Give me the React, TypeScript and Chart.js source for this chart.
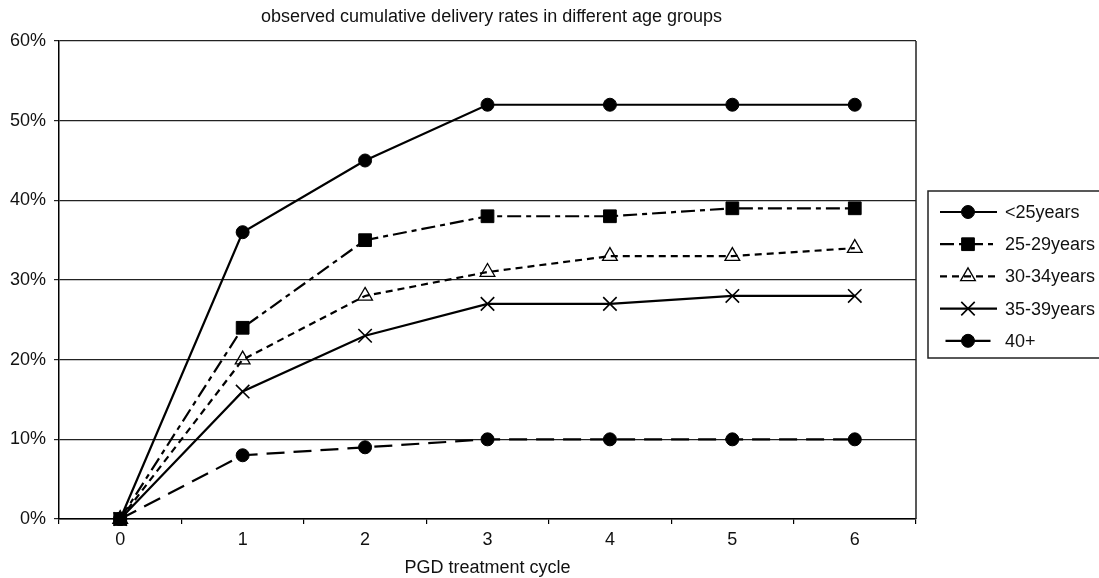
import React, { useEffect, useRef } from 'react';
import { Chart, registerables } from 'chart.js';
import { drawPoint } from 'chart.js/helpers';

Chart.register(...registerables);

const cycles = ['0', '1', '2', '3', '4', '5', '6'];
const under25 = [0, 36, 45, 52, 52, 52, 52];
const age25to29 = [0, 24, 35, 38, 38, 39, 39];
const age30to34 = [0, 20, 28, 31, 33, 33, 34];
const age35to39 = [0, 16, 23, 27, 27, 28, 28];
const age40plus = [0, 8, 9, 10, 10, 10, 10];
const seriesLabels = ['<25years', '25-29years', '30-34years', '35-39years', '40+'];
const yMin = 0;
const yMax = 60;
const yStep = 10;
const chartTitle = 'observed cumulative delivery rates in different age groups';
const xAxisTitle = 'PGD treatment cycle';

const FONT = "'Liberation Sans', Arial, Helvetica, sans-serif";
const TEXT = '#111';

const framePlugin = {
  id: 'frame',
  beforeDatasetsDraw(chart: any) {
    const { ctx, chartArea } = chart;
    ctx.save();
    ctx.strokeStyle = '#222';
    ctx.lineWidth = 1.5;
    ctx.beginPath();
    ctx.moveTo(chartArea.right, chartArea.top);
    ctx.lineTo(chartArea.right, chartArea.bottom);
    ctx.stroke();
    ctx.restore();
  },
};

const titlePlugin = {
  id: 'topTitle',
  afterDraw(chart: any) {
    const { ctx, chartArea } = chart;
    ctx.save();
    ctx.font = `18px ${FONT}`;
    ctx.fillStyle = TEXT;
    ctx.textAlign = 'center';
    ctx.textBaseline = 'middle';
    ctx.fillText(chartTitle, (chartArea.left + chartArea.right) / 2 + 4, 17);
    ctx.restore();
  },
};

const legendPlugin = {
  id: 'boxLegend',
  afterDraw(chart: any) {
    const { ctx } = chart;
    const boxLeft = 928;
    const boxTop = 191;
    const boxBottom = 358;
    ctx.save();
    ctx.strokeStyle = '#222';
    ctx.lineWidth = 1.5;
    ctx.strokeRect(boxLeft, boxTop, 200, boxBottom - boxTop);
    chart.data.datasets.forEach((ds: any, i: number) => {
      const y = 212 + i * 32.2;
      ctx.save();
      ctx.strokeStyle = '#000';
      ctx.lineWidth = ds.borderWidth;
      ctx.setLineDash(ds.borderDash || []);
      ctx.lineDashOffset = ds.legendDashOffset || 0;
      ctx.beginPath();
      ctx.moveTo(940, y);
      ctx.lineTo(997, y);
      ctx.stroke();
      ctx.restore();
      ctx.save();
      ctx.setLineDash([]);
      ctx.fillStyle = ds.pointBackgroundColor;
      ctx.strokeStyle = ds.pointBorderColor;
      ctx.lineWidth = ds.pointBorderWidth;
      drawPoint(
        ctx,
        { pointStyle: ds.pointStyle, rotation: 0, radius: ds.pointRadius, borderWidth: ds.pointBorderWidth },
        968,
        y
      );
      ctx.restore();
      ctx.save();
      ctx.font = `18px ${FONT}`;
      ctx.fillStyle = TEXT;
      ctx.textAlign = 'left';
      ctx.textBaseline = 'middle';
      ctx.fillText(ds.label, 1005, y + 1);
      ctx.restore();
    });
    ctx.restore();
  },
};

export default function App() {
  const canvasRef = useRef<HTMLCanvasElement | null>(null);

  useEffect(() => {
    const canvas = canvasRef.current;
    if (!canvas) return;
    const common = {
      borderColor: '#000',
      borderWidth: 2.2,
      pointBorderColor: '#000',
      fill: false,
      tension: 0,
      clip: false as const,
    };
    const chart = new Chart(canvas, {
      type: 'line',
      data: {
        labels: cycles,
        datasets: [
          {
            ...common,
            label: seriesLabels[0],
            data: under25,
            order: 1,
            borderDash: [],
            pointStyle: 'circle',
            pointRadius: 6.5,
            pointBackgroundColor: '#000',
            pointBorderWidth: 1,
          },
          {
            ...common,
            label: seriesLabels[1],
            data: age25to29,
            order: 0,
            borderDash: [14, 5, 5, 5],
            pointStyle: 'rect',
            pointRadius: 9,
            pointBackgroundColor: '#000',
            pointBorderWidth: 1,
          },
          {
            ...common,
            label: seriesLabels[2],
            data: age30to34,
            order: 2,
            borderDash: [7, 5],
            pointStyle: 'triangle',
            pointRadius: 8.5,
            pointBackgroundColor: 'rgba(255,255,255,0)',
            pointBorderWidth: 1.3,
          },
          {
            ...common,
            label: seriesLabels[3],
            data: age35to39,
            order: 3,
            borderDash: [],
            pointStyle: 'crossRot',
            pointRadius: 9.5,
            pointBackgroundColor: '#000',
            pointBorderWidth: 1.6,
          },
          {
            ...common,
            label: seriesLabels[4],
            data: age40plus,
            order: 4,
            borderDash: [18, 9],
            legendDashOffset: 21.5,
            pointStyle: 'circle',
            pointRadius: 6.5,
            pointBackgroundColor: '#000',
            pointBorderWidth: 1,
          },
        ],
      },
      options: {
        responsive: false,
        animation: false,
        devicePixelRatio: 1,
        layout: { padding: { top: 41, right: 183, bottom: 0, left: 0 } },
        plugins: {
          legend: { display: false },
          title: { display: false },
          tooltip: { enabled: false },
        },
        scales: {
          x: {
            type: 'category',
            offset: true,
            afterFit: (s: any) => {
              s.height = 59;
            },
            grid: {
              display: true,
              drawOnChartArea: false,
              drawTicks: true,
              offset: true,
              tickLength: 5,
              color: '#000',
              lineWidth: 1.2,
            },
            border: { display: true, color: '#000', width: 1.5 },
            ticks: {
              padding: 5,
              color: TEXT,
              font: { family: FONT, size: 18 },
              maxRotation: 0,
            },
            title: {
              display: true,
              text: xAxisTitle,
              color: TEXT,
              font: { family: FONT, size: 18 },
              padding: { top: 0, bottom: -1 },
            },
          },
          y: {
            min: yMin,
            max: yMax,
            afterFit: (s: any) => {
              s.width = 59;
            },
            grid: {
              color: '#222',
              lineWidth: 1.2,
              tickLength: 5,
              drawTicks: true,
            },
            border: { display: true, color: '#000', width: 1.5 },
            ticks: {
              stepSize: yStep,
              padding: 8,
              color: TEXT,
              font: { family: FONT, size: 18 },
              callback: (v: any) => `${v}%`,
            },
          },
        },
      },
      plugins: [framePlugin, titlePlugin, legendPlugin],
    });
    return () => chart.destroy();
  }, []);

  return (
    <div style={{ position: 'absolute', left: 0, top: 0, width: 1099, height: 578, background: '#fff' }}>
      <canvas ref={canvasRef} width={1099} height={578} style={{ display: 'block', width: 1099, height: 578 }} />
    </div>
  );
}
